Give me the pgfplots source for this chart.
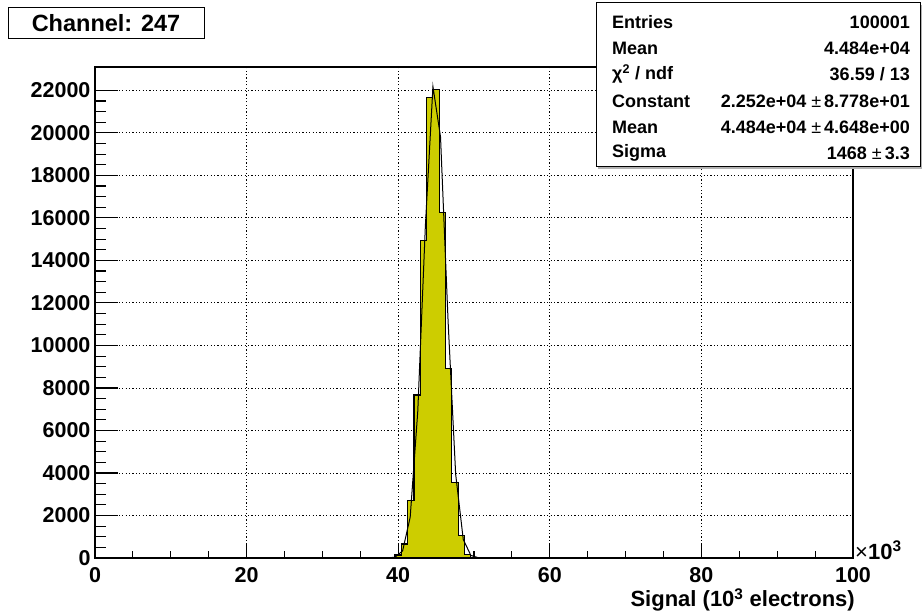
\documentclass[border=0pt]{standalone}
\usepackage{fontspec}
\setmainfont{Liberation Sans}
\usepackage{pgfplots}
\pgfplotsset{compat=1.18}
\definecolor{histyellow}{RGB}{205,205,0}
\begin{document}
\begin{tikzpicture}[x=1pt,y=1pt]
\path[use as bounding box] (0,0) rectangle (922,615);
\begin{axis}[
  at={(95pt,57pt)}, anchor=south west,
  width=758pt, height=491pt, scale only axis,
  xmin=0, xmax=100, ymin=0, ymax=23100,
  xtick={0,20,...,100}, minor x tick num=3,
  ytick={0,2000,...,22000}, minor y tick num=3,
  tick align=inside, xtick pos=bottom, ytick pos=left,
  grid=major,
  major grid style={black, line width=0.9pt, dash pattern=on 1.2pt off 2.2pt},
  axis line style={line width=1.4pt},
  xtick style={black, line width=1.1pt, /pgfplots/major tick length=14.5pt, /pgfplots/minor tick length=7.3pt},
  ytick style={black, line width=1.1pt, /pgfplots/major tick length=22.5pt, /pgfplots/minor tick length=11.3pt},
  scaled ticks=false,
  /pgf/number format/assume math mode=true,
  /pgf/number format/1000 sep={},
  ticklabel style={font=\fontsize{21.5}{24}\selectfont\bfseries},
  xticklabel style={yshift=-6pt},
  yticklabel style={xshift=-1pt},
  clip=false,
]
\addplot[const plot, fill=histyellow, draw=black, line width=1.1pt] coordinates {
(37.083,0) (37.917,3) (38.750,20) (39.583,140) (40.417,660) (41.250,2700)
(42.083,7670) (42.917,14950) (43.750,21660) (44.583,22020) (45.417,16270)
(46.250,8930) (47.083,3560) (47.917,1050) (48.750,175) (49.583,30)
(50.417,4) (51.250,0) (52.083,0)
} \closedcycle;
\addplot[black, line width=1.0pt] coordinates {
(36.583,0) (37.583,0.11) (38.583,2.6) (39.583,37) (40.583,336) (41.583,1922)
(42.583,6907) (43.583,15609) (44.583,22178) (45.583,19813) (46.583,11129)
(47.583,3930) (48.583,872) (49.583,122) (50.583,11) (51.583,0.6) (52.583,0)
};
\end{axis}
% x label and multiplier
\node[anchor=east, font=\fontsize{22}{26}\selectfont\bfseries, inner sep=0pt] at (855,15) {Signal (10\textsuperscript{3} electrons)};
\node[anchor=west, font=\fontsize{22}{26}\selectfont\bfseries, inner sep=0pt] at (855,65) {{\mdseries×}10\textsuperscript{3}};
% title box
\draw[line width=1pt, fill=white] (8,576) rectangle (204,607);
\node[font=\fontsize{23.5}{27}\selectfont\bfseries, inner sep=0pt] at (106,591.5) {Channel: 247};
% stats box
\fill[gray!60] (598,446) rectangle (922,610);
\draw[line width=1pt, fill=white] (596,448) rectangle (920,612);
\begin{scope}[every node/.style={font=\fontsize{18}{21}\selectfont\bfseries, inner sep=0pt}]
\node[anchor=west] at (612,593) {Entries};
\node[anchor=east] at (910,593) {100001};
\node[anchor=west] at (612,567) {Mean};
\node[anchor=east] at (910,567) {4.484e+04};
\node[anchor=west] at (612,541) {χ\textsuperscript{2} / ndf};
\node[anchor=east] at (910,541) {36.59 / 13};
\node[anchor=west] at (612,514) {Constant};
\node[anchor=east] at (910,514) {2.252e+04 {\mdseries±}\,8.778e+01};
\node[anchor=west] at (612,488) {Mean};
\node[anchor=east] at (910,488) {4.484e+04 {\mdseries±}\,4.648e+00};
\node[anchor=west] at (612,462) {Sigma};
\node[anchor=east] at (910,462) {1468 {\mdseries±}\,3.3};
\end{scope}
\end{tikzpicture}
\end{document}
